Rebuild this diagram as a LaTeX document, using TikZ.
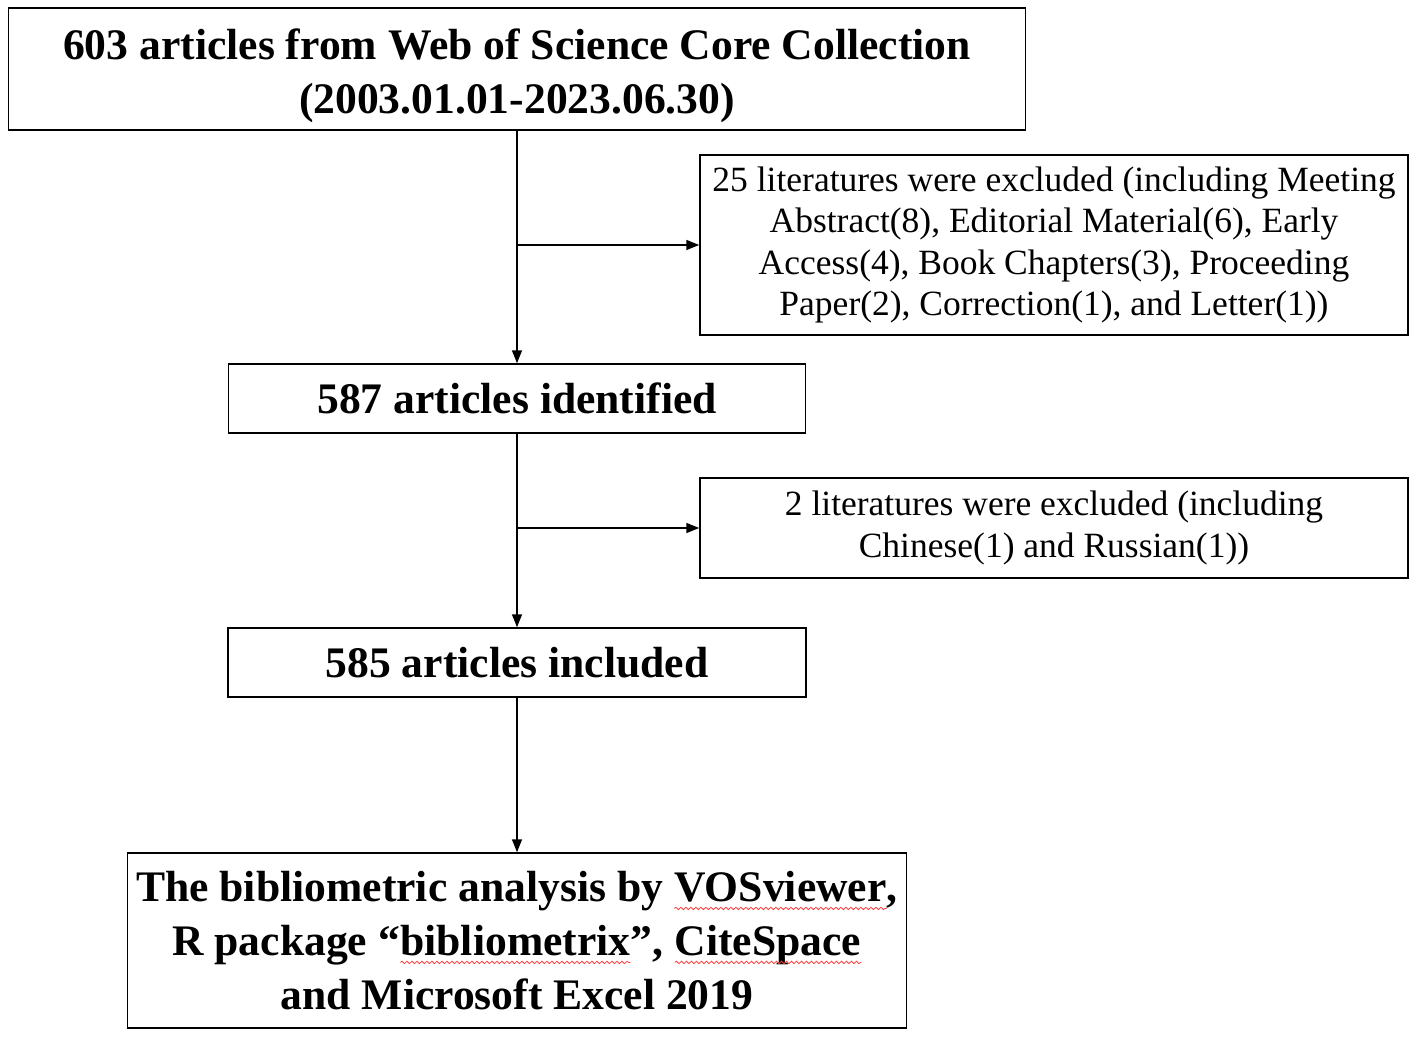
\documentclass[tikz,border=0pt]{standalone}
\usepackage{fontspec}
\setmainfont{Liberation Serif}
\usetikzlibrary{arrows.meta,decorations.pathmorphing}

% red wavy mark under a word
\newcommand{\wavyword}[1]{\tikz[baseline=(w.base)]{%
  \node[draw=none, inner sep=0pt, outer sep=0pt, minimum width=0pt, minimum height=0pt] (w) {#1};
  \draw[red!75, line width=0.8pt, decorate, decoration={snake, amplitude=1.2pt, segment length=5pt}]
    ([yshift=-7pt]w.base west) -- ([yshift=-7pt]w.base east);}}

\begin{document}
\begin{tikzpicture}[x=1pt, y=-1pt]
        \tikzstyle{mainbox}=[draw, line width=1.5pt, align=center, inner sep=0pt,
          font=\fontsize{43.6}{54}\selectfont\bfseries]
        \tikzstyle{sidebox}=[draw, line width=1.5pt, align=center, inner sep=0pt,
          font=\fontsize{35.5}{41.4}\selectfont]
        \tikzstyle{flow}=[line width=1.5pt, -{Triangle[length=13pt, width=10pt]}]

        \useasboundingbox (0, 0) rectangle (1417, 1038);

        % the boxes of the main column
        \node[mainbox, minimum width=1017, minimum height=122] at (517, 69) (src)
          {\rule{0pt}{44pt}603 articles from Web of Science Core Collection\\(2003.01.01-2023.06.30)};
        \node[mainbox, minimum width=577, minimum height=69] at (517, 398.5) (ident)
          {587 articles identified};
        \node[mainbox, minimum width=578, minimum height=69] at (517, 662.5) (incl)
          {585 articles included};
        \node[mainbox, minimum width=779, minimum height=175] at (517, 940.5) (tools)
          {The bibliometric analysis by \wavyword{VOSviewer},\\
           R package “\wavyword{bibliometrix}”, \wavyword{CiteSpace}\\
           and Microsoft Excel 2019};

        % the boxes of the excluded literatures
        \node[sidebox, minimum width=708, minimum height=180] at (1054, 245) (excl1)
          {25 literatures were excluded (including Meeting\\
           Abstract(8), Editorial Material(6), Early\\
           Access(4), Book Chapters(3), Proceeding\\
           Paper(2), Correction(1), and Letter(1))};
        \node[sidebox, minimum width=708, minimum height=100] at (1054, 528) (excl2)
          {2 literatures were excluded (including\\
           Chinese(1) and Russian(1))};

        % branch points on the trunk
        \coordinate (b1) at (src.south |- excl1.west);
        \coordinate (b2) at (ident.south |- excl2.west);

        % draw the trunk and the branches
        \draw[flow] (src) -- (ident);
        \draw[flow] (ident) -- (incl);
        \draw[flow] (incl) -- (tools);
        \draw[flow] (b1) -- (excl1);
        \draw[flow] (b2) -- (excl2);
    \end{tikzpicture}
\end{document}
